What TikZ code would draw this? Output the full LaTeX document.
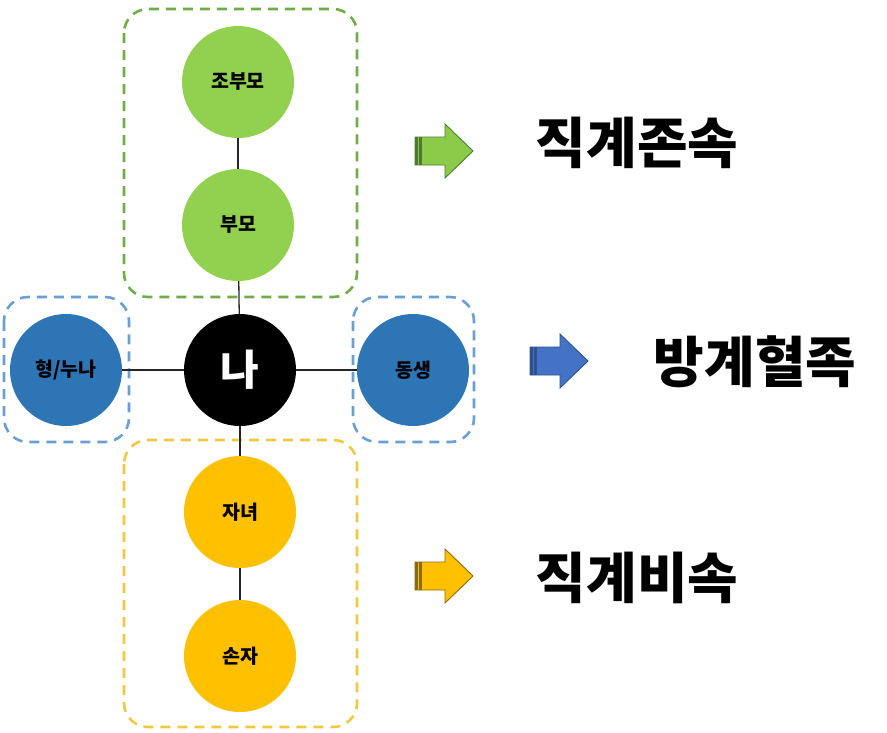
\documentclass[tikz,border=0pt]{standalone}
\usepackage{fontspec}
\newfontfamily\kr{Noto Sans CJK KR}
\definecolor{gnode}{HTML}{92D050}
\definecolor{gdash}{HTML}{70AD47}
\definecolor{bnode}{HTML}{2E75B6}
\definecolor{bdash}{HTML}{6A9FD4}
\definecolor{ynode}{HTML}{FFC000}
\definecolor{ydash}{HTML}{F2C744}
\definecolor{garrow}{HTML}{8CCB4A}
\definecolor{garrowd}{HTML}{4E7A2E}
\definecolor{barrow}{HTML}{4472C4}
\definecolor{barrowd}{HTML}{2F528F}
\definecolor{yarrow}{HTML}{FFC000}
\definecolor{yarrowd}{HTML}{8A6A10}
\newcommand\stripearrow[4]{%
  \begin{scope}[shift={(#1,#2)}]
    \filldraw[fill=#3,draw=#4,line width=0.9pt,line join=miter]
      (0,-14) -- (30,-14) -- (30,-27) -- (58,0) -- (30,27) -- (30,14) -- (0,14) -- cycle;
    \fill[#4] (0,-14) rectangle (2.5,14);
    \fill[#4] (4,-14) rectangle (6.5,14);
  \end{scope}}
\begin{document}
\begin{tikzpicture}[x=1pt,y=-1pt,
  person/.style={circle,minimum size=112pt,inner sep=0pt,font=\kr\bfseries\fontsize{19.5}{19.5}\selectfont,text=black},
  grp/.style={line width=2.6pt,dash pattern=on 10pt off 7pt,rounded corners=24pt},
  link/.style={line width=1.3pt,black!85},
  big/.style={font=\kr\bfseries\fontsize{55}{55}\selectfont,text=black}]
\useasboundingbox (0,0) rectangle (887,732);
% groups
\draw[grp,gdash] (124,9) rectangle (357,297);
\draw[grp,bdash] (4,297) rectangle (129,442);
\draw[grp,bdash] (353,297) rectangle (474,442);
\draw[grp,ydash] (124,440) rectangle (357,727);
% nodes
\node[person,fill=gnode] (gp) at (238,82) {조부모};
\node[person,fill=gnode] (pa) at (238,225) {부모};
\node[person,fill=black,text=white,font=\kr\bfseries\fontsize{42}{42}\selectfont] (me) at (240,370) {나};
\node[person,fill=bnode] (sib) at (66,370) {형/누나};
\node[person,fill=bnode] (yo) at (413,370) {동생};
\node[person,fill=ynode] (ch) at (240,512) {자녀};
\node[person,fill=ynode] (gc) at (240,656) {손자};
% links
\draw[link] (gp) -- (pa);
\draw[link] (pa) -- (me);
\draw[link] (me) -- (sib);
\draw[link] (me) -- (yo);
\draw[link] (me) -- (ch);
\draw[link] (ch) -- (gc);
% arrows
\stripearrow{415}{151}{garrow}{garrowd}
\stripearrow{530}{361}{barrow}{barrowd}
\stripearrow{415}{576}{yarrow}{yarrowd}
% labels
\node[big] (l1) at (637,143) {직계존속};
\node[big] (l2) at (755,362) {방계혈족};
\node[big] (l3) at (637,578) {직계비속};
\end{tikzpicture}
\end{document}
